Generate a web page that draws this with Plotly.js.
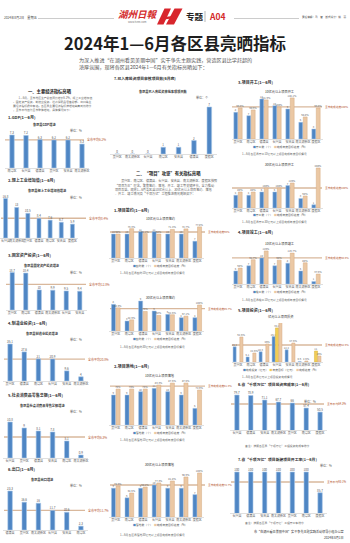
<!DOCTYPE html>
<html><head><meta charset="utf-8">
<script src="https://cdn.plot.ly/plotly-3.0.1.min.js"></script>
<style>html,body{margin:0;padding:0;background:#fff;}#chart{width:350px;height:543px;}</style>
</head><body><div id="chart"></div>
<script>
// ===================== DATA =====================
// 一、主要经济指标
const gdpCats = ['南浔区','长兴县','德清县','吴兴区','安吉县','南太湖新区'];
const gdpVals = [7.3, 7.2, 6.3, 6.2, 6.2, 5.3];
const gdpAvg = 6.2;
const indCats = ['长兴县','南太湖新区','吴兴区','德清县','南浔区','安吉县','度假区'];
const indVals = [16.8, 13.0, 10.5, 8.4, 7.6, 6.7, 5.9];
const indAvg = 8.4;
const fixCats = ['吴兴区','南浔区','德清县','南太湖新区','长兴县','安吉县'];
const fixVals = [18.7, 18.4, 10.0, 9.9, 9.5, 9.4];
const fixAvg = 12.8;
const mfgCats = ['吴兴区','德清县','南浔区','长兴县','安吉县','南太湖新区'];
const mfgVals = [35.1, 27.6, 21.0, 20.9, 9.6, 4.0];
const mfgAvg = 20.8;
const retCats = ['长兴县','吴兴区','德清县','安吉县','南浔区','南太湖新区'];
const retVals = [10.8, 9.0, 8.1, 7.8, 5.1, 0.9];
const retAvg = 6.3;
const expCats = ['德清县','吴兴区','南太湖新区','长兴县','安吉县','南浔区'];
const expVals = [23.3, 16.6, 16.0, 11.7, 10.6, 2.3];
const expAvg = 11.7;
// 7. 入库项目数
const dbCats = ['吴兴区','南太湖新区','长兴县','南浔区','安吉县','德清县','度假区'];
const dbVals = [0, 0, 0, 1, 1, 2, 7];
// 二、项目攻坚
const projCats = ['吴兴区','南浔区','德清县','长兴县','安吉县','南太湖新区','度假区'];
const sign10Count = [10, 10, 11, 11, 10, 10, 7];
const sign10Pct = [60.0, 73.3, 61.1, 60.0, 71.4, 72.7, 77.8];
const sign10Avg = 65.0;
const sign30Count = [8, 3, 9, 6, 5, 4, 4];
const sign30Pct = [88.9, 42.9, 75.0, 60.0, 62.5, 57.1, 100.0];
const sign30Avg = 85.7;
const land10Count = [9, 9, 10, 11, 10, 9, 5];
const land10Pct = [75.0, 75.0, 75.0, 83.3, 87.5, 87.5, 72.9];
const land10Avg = 81.3;
const land30Count = [9, 6, 9, 10, 9, 9, 7];
const land30Pct = [70.5, 54.5, 68.2, 77.3, 81.8, 90.9, 100.0];
const land30Avg = 72.7;
const start10Count = [8, 7, 12, 10, 9, 5, 3];
const start10Pct = [96.9, 90.6, 121.9, 100.0, 128.1, 68.8, 96.9];
const start10Avg = 100.0;
const start30Count = [4, 4, 5, 5, 7, 3, 1];
const start30Pct = [80.0, 80.0, 100.0, 100.0, 125.0, 60.0, 200.0];
const start30Avg = 100.0;
const done10Count = [5, 7, 10, 7, 8, 5, 1];
const done10Pct = [60.0, 91.7, 125.0, 90.0, 116.7, 80.0, 37.5];
const done10Avg = 98.5;
const invDone = [15.2, 5.1, 10.3, 25.4, 12.2, 0.6, null];
const invTarget = [null, null, null, 34.1, null, null, 11.0];
const invPct = [62.5, 22.5, 45.0, 100.0, 47.5, 2.5, 15.0];
const invAvg = 42.5;
// 千项万亿
const qxCats = ['长兴县','德清县','安吉县','南太湖新区','吴兴区','南浔区','度假区'];
const qxVals = [79.7, 78.9, 71.1, 67.7, 66.0, 57.4, 50.5];
const qxAvg = 64.3;
const kgCats = ['长兴县','德清县','安吉县','南太湖新区','吴兴区','南浔区','度假区'];
const kgVals = [100, 100, 100, 100, 100, 100, 85.7];
const kgAvg = 93.1;

// ===================== HELPERS =====================
const W = 350, H = 543;
const fx = p => p / W;
const fy = p => 1 - p / H;
const FONT = '"Noto Sans CJK SC", "Noto Sans", sans-serif';
const BLUE = '#4f86c4', BLUE_EDGE = '#a8c6e8', TAN = '#ebc8a4', TAN_EDGE = '#d6aa80';
const YEL = '#f1cd55', REF = '#d9b89c', LBL = '#b4532c';

const traces = [], annotations = [], shapes = [];
const layout = {
  width: W, height: H, margin: {l:0, r:0, t:0, b:0},
  paper_bgcolor: '#fff', plot_bgcolor: 'rgba(0,0,0,0)', showlegend: false,
  font: {family: FONT, color: '#333'}, annotations, shapes
};
let xc = 0, yc = 0;
const sfx = n => n === 1 ? '' : String(n);

function panel(box, cats, yRange) {
  const xs = sfx(++xc), ys = sfx(++yc);
  layout['xaxis' + xs] = {
    domain: [fx(box.x0), fx(box.x1)], anchor: 'y' + ys, type: 'category',
    categoryorder: 'array', categoryarray: cats, range: [-0.5, cats.length - 0.5],
    showgrid: false, zeroline: false, showline: true, linecolor: '#c9c9c9', linewidth: 0.6,
    ticks: '', tickangle: 0, tickfont: {size: 3, color: '#666', family: FONT}, fixedrange: true
  };
  layout['yaxis' + ys] = {domain: [fy(box.yb), fy(box.yt)], anchor: 'x' + xs, range: yRange,
    visible: false, fixedrange: true};
  return {x: 'x' + xs, y: 'y' + ys};
}
function overlay(p, yRange) {
  const ys = sfx(++yc);
  layout['yaxis' + ys] = {overlaying: p.y, anchor: p.x, range: yRange, visible: false, fixedrange: true};
  return 'y' + ys;
}
function txt(text, xpx, ypx, size, opt) {
  opt = opt || {};
  annotations.push(Object.assign({
    xref: 'paper', yref: 'paper', x: fx(xpx), y: fy(ypx), text: text, showarrow: false,
    xanchor: 'left', yanchor: 'middle', font: {size: size, color: opt.color || '#333', family: FONT}
  }, opt.extra || {}, opt.anchor ? {xanchor: opt.anchor} : {}));
}
function refLine(yaxis, val, lx0, lx1, label, lsize) {
  shapes.push({type: 'line', xref: 'paper', yref: yaxis, x0: fx(lx0), x1: fx(lx1), y0: val, y1: val,
    line: {color: REF, width: 1.3}, layer: 'below'});
  annotations.push({xref: 'paper', yref: yaxis, x: fx(lx1 + 0.5), y: val, xanchor: 'left', yanchor: 'middle',
    text: label, showarrow: false, font: {size: lsize || 3, color: LBL, family: FONT}});
}
function barText(vals, suffix) {
  return vals.map(v => v === null ? '' : String(v) + (suffix || ''));
}
function simpleChart(box, cats, vals, avg, yMin, unitX, unitY, unit) {
  const mx = Math.max(...vals);
  const yr = [yMin, yMin + (mx - yMin) * (box.yb - box.yt) / (box.yb - box.ytall)];
  const p = panel(box, cats, yr);
  traces.push({type: 'bar', x: cats, y: vals, xaxis: p.x, yaxis: p.y, width: box.bw || 0.32,
    marker: {color: BLUE, line: {color: BLUE_EDGE, width: 0.6}},
    text: barText(vals), textposition: 'outside', constraintext: 'none', cliponaxis: false,
    textfont: {size: 3, color: '#555', family: FONT}, hoverinfo: 'skip'});
  if (avg !== null) refLine(p.y, avg, box.lx0, box.lx1, '全市平均' + avg + '%', box.ls);
  if (unitX) txt('单位：' + (unit || '%'), unitX, unitY, 3, {color: '#555'});
  return p;
}
function groupChart(box, cats, series, avg, cRange, pRange, avgLabel) {
  const p = panel(box, cats, cRange);
  const py = overlay(p, pRange);
  const n = series.length;
  const w = n === 2 ? 0.3 : 0.24;
  const offs = n === 2 ? [-0.32, 0.02] : [-0.38, -0.12, 0.14];
  series.forEach((s, i) => {
    traces.push({type: 'bar', x: cats, y: s.vals, xaxis: p.x, yaxis: s.pct ? py : p.y,
      width: w, offset: offs[i],
      marker: {color: s.color, line: {color: s.edge, width: 0.5}},
      text: barText(s.vals, s.pct ? '%' : ''), textposition: 'outside', constraintext: 'none',
      cliponaxis: false, textfont: {size: 2.6, color: '#666', family: FONT}, hoverinfo: 'skip'});
  });
  refLine(py, avg, box.lx0, box.lx1, (avgLabel || '全市完成进度') + avg + '%', box.ls || 2.7);
  return p;
}
function legendTxt(items, xc0, ypx) {
  const t = items.map(it => '<span style="color:' + it[0] + '">■</span>' + it[1]).join('　');
  txt(t, xc0, ypx, 2.8, {anchor: 'center', color: '#555'});
}

// ===================== HEADER =====================
txt('2024年8月2日　星期五', 2, 17.5, 3.2, {color: '#444'});
shapes.push({type: 'line', xref: 'paper', yref: 'paper', x0: fx(38), x1: fx(114), y0: fy(18.5), y1: fy(18.5), line: {color: '#999', width: 0.5}});
shapes.push({type: 'line', xref: 'paper', yref: 'paper', x0: fx(234), x1: fx(299), y0: fy(18.5), y1: fy(18.5), line: {color: '#999', width: 0.5}});
txt('<i><b>湖州日報</b></i>', 116, 14.5, 9.5, {color: '#d42a2a'});
txt('www.hz66.com', 126, 22.5, 2.6, {color: '#777'});
function pathPx(pts) {
  return 'M ' + pts.map(p => fx(p[0]) + ',' + fy(p[1])).join(' L ') + ' Z';
}
shapes.push({type: 'path', xref: 'paper', yref: 'paper', path: pathPx([[157,24.5],[163.5,24.5],[171,8.5],[164.5,8.5]]), fillcolor: '#d8262d', line: {width: 0}});
shapes.push({type: 'path', xref: 'paper', yref: 'paper', path: pathPx([[166,24.5],[174,24.5],[182.5,8.5],[174.5,8.5]]), fillcolor: '#d8262d', line: {width: 0}});
shapes.push({type: 'path', xref: 'paper', yref: 'paper', path: pathPx([[161.5,17.5],[176,15.5],[175,18],[160.5,20]]), fillcolor: '#d8262d', line: {width: 0}});
txt('<b>专题</b>', 184, 16.5, 8.5, {color: '#222'});
shapes.push({type: 'line', xref: 'paper', yref: 'paper', x0: fx(205), x1: fx(205), y0: fy(11), y1: fy(22), line: {color: '#888', width: 0.6}});
txt('<b>A04</b>', 207, 16.5, 8.5, {color: '#d42a2a'});
txt('责任编辑：马　智　版式设计：姚　丽', 349, 17.5, 2.6, {anchor: 'right', color: '#444'});

txt('<b>2024年1—6月各区县亮晒指标</b>', 175, 43, 16.5, {anchor: 'center', color: '#1e1e1e'});
txt('为深入推进“在湖州看见美丽中国”实干争先主题实践，营造区县比学赶超的', 77, 60.5, 5.1, {color: '#555'});
txt('浓厚氛围，现将各区县2024年1—6月有关指标亮晒如下：', 77, 67.5, 5.1, {color: '#555'});

// ===================== LEFT COLUMN =====================
txt('<b>一、主要经济指标亮晒</b>', 50, 91, 4.3, {anchor: 'center', color: '#222'});
['　　1—6月，全市地区生产总值同比增长6.2%，规上工业增加值',
 '、固定资产投资、制造业投资、社会消费品零售总额、出口等主',
 '要经济指标稳中有进。各区县主要经济指标按增速由高到低排序',
 '，全市平均值为全市整体增速，具体情况如下：'].forEach((l, i) => txt(l, 11, 98.3 + i * 3.9, 2.8, {color: '#666'}));

txt('<b>1.GDP(1—6月)</b>', 6, 117, 4, {color: '#333'});
txt('<b>各区县GDP增速</b>', 44, 124.5, 3.2, {anchor: 'center', color: '#333'});
simpleChart({x0: 5, x1: 89, yb: 168, ytall: 135, yt: 129, lx0: 5, lx1: 84}, gdpCats, gdpVals, gdpAvg, 0, 68, 130.5);

txt('<b>2.规上工业增加值(1—6月)</b>', 6, 180, 4, {color: '#333'});
txt('<b>各区县规上工业增加值增速</b>', 47, 190, 3.2, {anchor: 'center', color: '#333'});
simpleChart({x0: 0, x1: 78, yb: 238, ytall: 198.5, yt: 193, lx0: 1, lx1: 86, bw: 0.36}, indCats, indVals, indAvg, 0, 68, 197);

txt('<b>3.固定资产投资(1—6月)</b>', 6, 255, 4, {color: '#333'});
txt('<b>各区县固定资产投资增速</b>', 42, 265, 3.2, {anchor: 'center', color: '#333'});
simpleChart({x0: 5.5, x1: 86.5, yb: 310, ytall: 272.5, yt: 267, lx0: 6, lx1: 86}, fixCats, fixVals, fixAvg, 0, 68, 272);

txt('<b>4.制造业投资(1—6月)</b>', 6, 323, 4, {color: '#333'});
txt('<b>各区县制造业投资增速</b>', 42, 333, 3.2, {anchor: 'center', color: '#333'});
simpleChart({x0: 3, x1: 88, yb: 381, ytall: 344, yt: 339, lx0: 4, lx1: 85}, mfgCats, mfgVals, mfgAvg, 0, 68, 339);

txt('<b>5.社会消费品零售总额(1—6月)</b>', 6, 395, 4, {color: '#333'});
txt('<b>各区县社会消费品零售总额增速</b>', 42, 405, 3.2, {anchor: 'center', color: '#333'});
simpleChart({x0: 3, x1: 88, yb: 458, ytall: 422, yt: 417, lx0: 4, lx1: 85}, retCats, retVals, retAvg, 0, 68, 411);

txt('<b>6.出口(1—6月)</b>', 6, 469, 4, {color: '#333'});
txt('<b>各区县出口增速</b>', 42, 479, 3.2, {anchor: 'center', color: '#333'});
simpleChart({x0: 3, x1: 88, yb: 530, ytall: 491, yt: 486, lx0: 4, lx1: 85}, expCats, expVals, expAvg, 0, 68, 485);

// ===================== MIDDLE COLUMN =====================
txt('<b>7.已入库投资项目审核项目数(6月底)</b>', 112, 79, 3.8, {color: '#333'});
txt('<b>各区县已入库投资审批事项项目数</b>', 163, 91.5, 3.2, {anchor: 'center', color: '#333'});
simpleChart({x0: 109.5, x1: 217, yb: 154, ytall: 107, yt: 101, lx0: 0, lx1: 0, bw: 0.3}, dbCats, dbVals, null, 0, 194, 98, '个');

txt('<b>二、“项目”攻坚”有关指标亮晒</b>', 168, 173.5, 4.3, {anchor: 'center', color: '#222'});
['　　吴兴区、南浔区、德清县、长兴县、安吉县、南太湖新区、度假区按照',
 '“项目为王”理念，聚焦签约、落地、开工、竣工等关键环节，全力推动',
 '项目攻坚。现将1—6月各区县10亿元以上、30亿元以上项目签约、落地',
 '、开工、竣工情况及“千项万亿”工程推进情况亮晒如下：'].forEach((l, i) => txt(l, 113, 181 + i * 4.2, 3.1, {color: '#666'}));

const LEG2 = [[BLUE, '签约数（个）'], [TAN, '完成年度目标进度（%）']];
txt('<b>1.项目签约(1—6月)</b>', 112, 210, 4, {color: '#333'});
txt('10亿元以上项目签约', 160, 218.5, 3.2, {anchor: 'center', color: '#333'});
groupChart({x0: 109, x1: 204, yb: 258, yt: 222, lx0: 110, lx1: 205}, projCats,
  [{vals: sign10Count, color: BLUE, edge: BLUE_EDGE}, {vals: sign10Pct, pct: true, color: TAN, edge: TAN_EDGE}],
  sign10Avg, [0, 15], [0, 90]);
legendTxt(LEG2, 160, 266);
txt('1—6月各区县签约10亿元以上项目完成年度目标情况', 118, 273, 2.8, {color: '#666'});

txt('30亿元以上项目签约', 160, 297, 3.2, {anchor: 'center', color: '#333'});
groupChart({x0: 109, x1: 204, yb: 331, yt: 299, lx0: 110, lx1: 205}, projCats,
  [{vals: sign30Count, color: BLUE, edge: BLUE_EDGE}, {vals: sign30Pct, pct: true, color: TAN, edge: TAN_EDGE}],
  sign30Avg, [0, 9.6], [0, 123]);
legendTxt(LEG2, 160, 339);
txt('1—6月各区县签约30亿元以上项目完成年度目标情况', 118, 347, 2.8, {color: '#666'});

const LEG3 = [[BLUE, '落地数（个）'], [TAN, '完成年度目标进度（%）']];
txt('<b>2.项目落地(1—6月)</b>', 112, 366, 4, {color: '#333'});
txt('10亿元以上项目落地', 160, 375, 3.2, {anchor: 'center', color: '#333'});
groupChart({x0: 109, x1: 204, yb: 425, yt: 379, lx0: 110, lx1: 205}, projCats,
  [{vals: land10Count, color: BLUE, edge: BLUE_EDGE}, {vals: land10Pct, pct: true, color: TAN, edge: TAN_EDGE}],
  land10Avg, [0, 13.8], [0, 96]);
legendTxt(LEG3, 160, 433);
txt('1—6月各区县落地10亿元以上项目完成年度目标情况', 118, 440, 2.8, {color: '#666'});

txt('30亿元以上项目落地', 160, 464, 3.2, {anchor: 'center', color: '#333'});
groupChart({x0: 109, x1: 204, yb: 517, yt: 469, lx0: 110, lx1: 205}, projCats,
  [{vals: land30Count, color: BLUE, edge: BLUE_EDGE}, {vals: land30Pct, pct: true, color: TAN, edge: TAN_EDGE}],
  land30Avg, [0, 15], [0, 109]);
legendTxt(LEG3, 160, 525);
txt('1—6月各区县落地30亿元以上项目完成年度目标情况', 118, 535, 2.8, {color: '#666'});

// ===================== RIGHT COLUMN =====================
const LEGK = [[BLUE, '开工数（个）'], [TAN, '完成年度目标进度（%）']];
txt('<b>3.项目开工(1—6月)</b>', 236, 82, 4, {color: '#333'});
txt('10亿元以上项目开工', 280, 91, 3.2, {anchor: 'center', color: '#333'});
groupChart({x0: 231.5, x1: 322.5, yb: 139, yt: 96, lx0: 232, lx1: 322}, projCats,
  [{vals: start10Count, color: BLUE, edge: BLUE_EDGE}, {vals: start10Pct, pct: true, color: TAN, edge: TAN_EDGE}],
  start10Avg, [0, 12.9], [0, 134]);
legendTxt(LEGK, 280, 147);
txt('1—6月各区县开工10亿元以上项目完成年度目标情况', 240, 154, 2.8, {color: '#666'});

txt('30亿元以上项目开工', 280, 164, 3.2, {anchor: 'center', color: '#333'});
groupChart({x0: 231.5, x1: 322.5, yb: 208, yt: 166, lx0: 232, lx1: 322}, projCats,
  [{vals: start30Count, color: BLUE, edge: BLUE_EDGE}, {vals: start30Pct, pct: true, color: TAN, edge: TAN_EDGE}],
  start30Avg, [0, 13.1], [0, 210]);
legendTxt(LEGK, 280, 215);
txt('1—6月各区县开工30亿元以上项目完成年度目标情况', 240, 222, 2.8, {color: '#666'});

txt('<b>4.项目竣工(1—6月)</b>', 236, 232, 4, {color: '#333'});
txt('10亿元以上项目竣工', 280, 243.5, 3.2, {anchor: 'center', color: '#333'});
groupChart({x0: 231.5, x1: 322.5, yb: 284, yt: 248, lx0: 232, lx1: 322}, projCats,
  [{vals: done10Count, color: BLUE, edge: BLUE_EDGE}, {vals: done10Pct, pct: true, color: TAN, edge: TAN_EDGE}],
  done10Avg, [0, 13.8], [0, 136]);
legendTxt([[BLUE, '竣工数（个）'], [TAN, '完成年度目标进度（%）']], 280, 292);
txt('1—6月各区县竣工10亿元以上项目完成年度目标情况', 240, 300, 2.8, {color: '#666'});

txt('<b>5.项目投资(1—6月)</b>', 236, 310, 4, {color: '#333'});
txt('亿元以上项目投资', 281, 316.5, 3.2, {anchor: 'center', color: '#333'});
groupChart({x0: 231.5, x1: 322.5, yb: 362, yt: 323, lx0: 232, lx1: 322}, projCats,
  [{vals: invDone, color: BLUE, edge: BLUE_EDGE}, {vals: invTarget, color: YEL, edge: '#d9b23a'},
   {vals: invPct, pct: true, color: TAN, edge: TAN_EDGE}],
  invAvg, [0, 39], [0, 97.5]);
legendTxt([[BLUE, '完成投资（亿元）'], [YEL, '年度目标（亿元）'], [TAN, '完成进度（%）']], 280, 370);
txt('1—6月各区县亿元以上项目投资完成情况', 240, 377, 2.8, {color: '#666'});

txt('<b>6.省“千项万亿”项目投资完成率(1—6月)</b>', 236, 384.5, 3.8, {color: '#333'});
simpleChart({x0: 230, x1: 327, yb: 430, ytall: 395, yt: 389, lx0: 231, lx1: 324, bw: 0.32, ls: 2.8}, qxCats, qxVals, qxAvg, 19.8, 302, 401);
txt('备注：按照各区县“千项万亿”工程投资完成率排序', 243, 446, 2.8, {color: '#666'});

txt('<b>7.省“千项万亿”项目新建项目开工率(1—6月)</b>', 236, 459, 3.8, {color: '#333'});
simpleChart({x0: 230, x1: 327, yb: 513, ytall: 472, yt: 466, lx0: 231, lx1: 324, bw: 0.32, ls: 2.8}, kgCats, kgVals, kgAvg, 71.7, 318, 465);
txt('备注：按照各区县“千项万亿”工程开工率排序', 243, 523, 2.8, {color: '#666'});

txt('市“在湖州看见美丽中国”实干争先主题实践活动领导小组办公室', 346, 531, 3.1, {anchor: 'right', color: '#333'});
txt('2024年8月1日', 346, 537, 3.1, {anchor: 'right', color: '#333'});

Plotly.newPlot('chart', traces, layout, {staticPlot: true, displayModeBar: false});
</script>
</body></html>
